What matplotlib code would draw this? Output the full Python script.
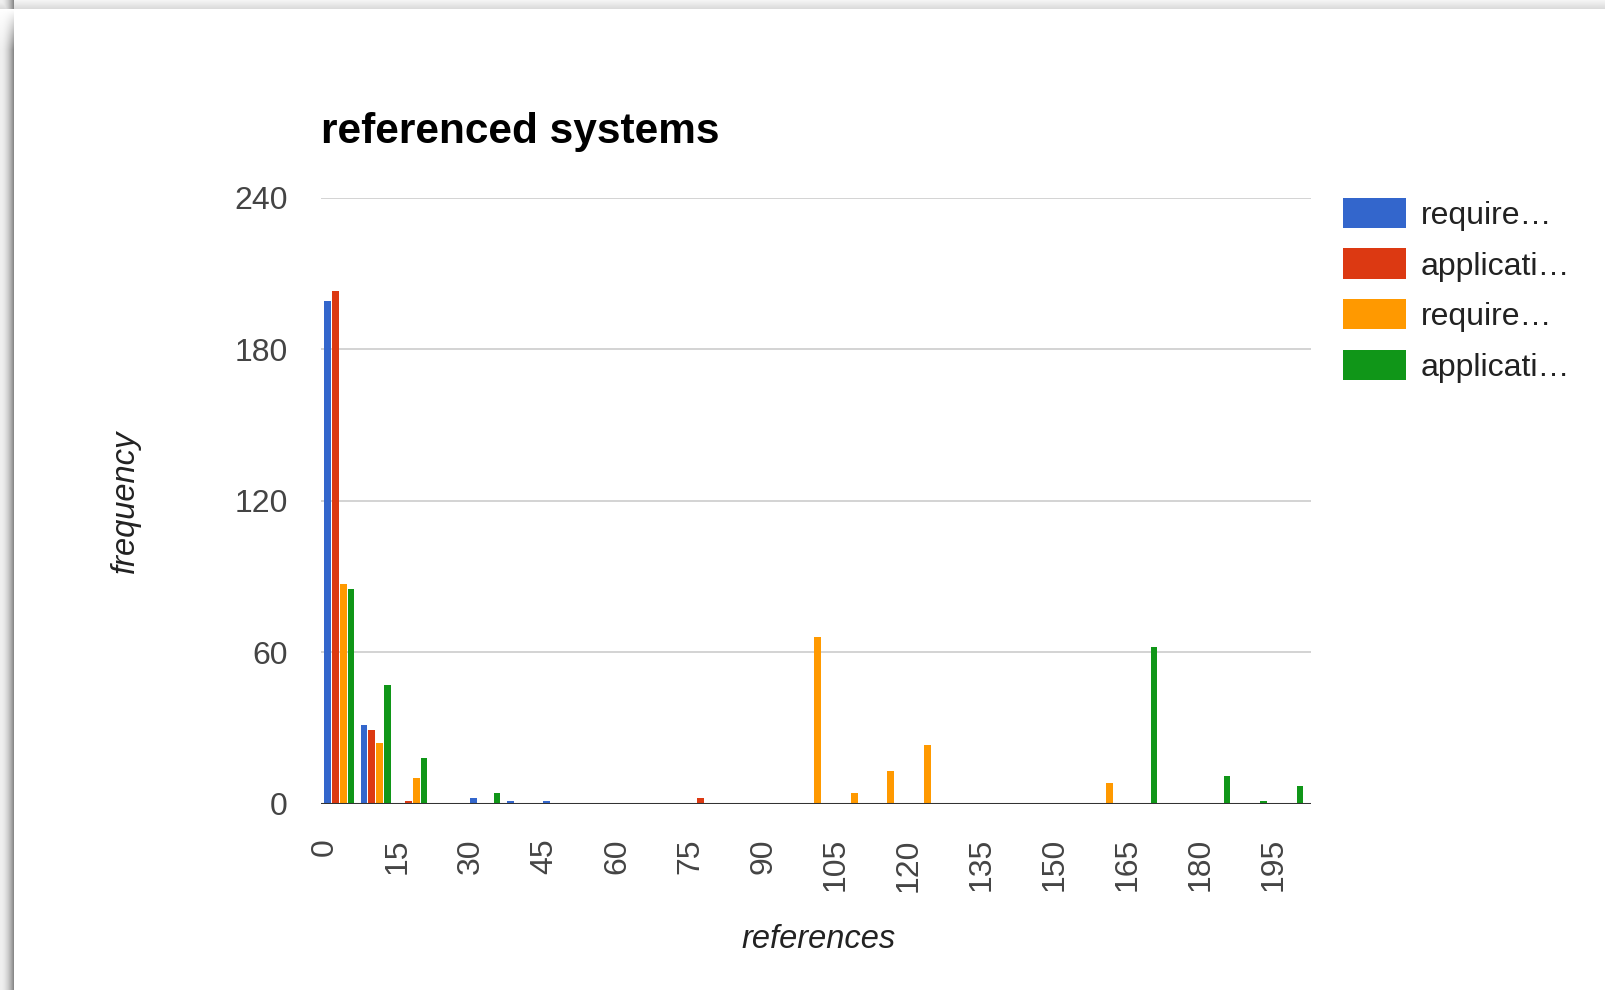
import numpy as np
import matplotlib
matplotlib.use('Agg')
import matplotlib.pyplot as plt
import matplotlib.transforms as mtransforms
from matplotlib.patches import Rectangle

plt.rcParams['font.family'] = ['Liberation Sans', 'DejaVu Sans']

# histogram of reference counts, bins of 7.5 references
bin_width = 7.5
n_bins = 27
bin_starts = np.arange(n_bins) * bin_width

series_names = ['require…', 'applicati…', 'require…', 'applicati…']
series_colors = ['#3366cc', '#dc3912', '#ff9900', '#109618']

req_a = [199, 31, 0, 0, 2, 1, 1, 0, 0, 0, 0, 0, 0, 0,
         0, 0, 0, 0, 0, 0, 0, 0, 0, 0, 0, 0, 0]
app_a = [203, 29, 1, 0, 0, 0, 0, 0, 0, 0, 2, 0, 0, 0,
         0, 0, 0, 0, 0, 0, 0, 0, 0, 0, 0, 0, 0]
req_b = [87, 24, 10, 0, 0, 0, 0, 0, 0, 0, 0, 0, 0, 66,
         4, 13, 23, 0, 0, 0, 0, 8, 0, 0, 0, 0, 0]
app_b = [85, 47, 18, 0, 4, 0, 0, 0, 0, 0, 0, 0, 0, 0,
         0, 0, 0, 0, 0, 0, 0, 0, 62, 0, 11, 1, 7]
series = [req_a, app_a, req_b, app_b]

y_ticks = [0, 60, 120, 180, 240]
x_ticks = np.arange(0, 196, 15)

W, H = 1605, 990
fig = plt.figure(figsize=(W / 100, H / 100), dpi=100)

# card background with a soft shadow on the left and top edges
bg = np.ones((H, W, 3))
shade = np.ones((H, W))
xs = np.arange(14)
shade[:, :14] = np.minimum(shade[:, :14], 0.94 - 0.40 * (xs / 13.0) ** 2)
ys = np.arange(9)
shade[:9, :] = np.minimum(shade[:9, :], (0.96 - 0.10 * (ys / 8.0))[:, None])
fade = np.clip(np.arange(40) / 40.0, 0, 1)
shade[9:49, :14] = 1 - (1 - shade[9:49, :14]) * fade[:, None]
bg *= shade[:, :, None]
back = fig.add_axes([0, 0, 1, 1])
back.imshow(bg, aspect='auto', extent=[0, W, H, 0], interpolation='bilinear')
back.set_xlim(0, W)
back.set_ylim(H, 0)
back.axis('off')

ax_left, ax_right, ax_top, ax_bottom = 321, 1311, 197.6, 803.5
ax = fig.add_axes([ax_left / W, 1 - ax_bottom / H,
                   (ax_right - ax_left) / W, (ax_bottom - ax_top) / H])
ax.patch.set_alpha(0)

bar_w = 1.4
offsets = [-2.4, -0.8, 0.8, 2.4]
centers = bin_starts + bin_width / 2
for vals, off, col in zip(series, offsets, series_colors):
    ax.bar(centers + off, vals, width=bar_w, color=col, linewidth=0, zorder=3)

ax.set_xlim(0, 203.4)
ax.set_ylim(0, 240)
for yv in y_ticks[1:]:
    ax.axhline(yv, color='#cccccc', lw=1.2, zorder=1)
ax.axhline(0, color='#333333', lw=2.2, zorder=4)

for s in ax.spines.values():
    s.set_visible(False)
ax.set_yticks(y_ticks)
ax.set_yticklabels([str(v) for v in y_ticks])
ax.set_xticks(x_ticks)
ax.set_xticklabels([str(v) for v in x_ticks], rotation=90)
ax.tick_params(axis='y', length=0, pad=24, labelsize=23, labelcolor='#444444')
ax.tick_params(axis='x', length=0, pad=25, labelsize=23, labelcolor='#444444')
nudge = mtransforms.ScaledTranslation(4 / 100, 0, fig.dpi_scale_trans)
for lbl in ax.get_xticklabels():
    lbl.set_transform(lbl.get_transform() + nudge)

# titles and labels in pixel coordinates
over = fig.add_axes([0, 0, 1, 1])
over.set_xlim(0, W)
over.set_ylim(H, 0)
over.axis('off')
over.patch.set_alpha(0)

over.text(321, 143, 'referenced systems', fontsize=30.5, fontweight='bold',
          color='black', ha='left', va='baseline')
over.text(125, 501, 'frequency', fontsize=23.5, style='italic', color='#222222',
          rotation=90, ha='center', va='center')
over.text(819, 940, 'references', fontsize=23.5, style='italic', color='#222222',
          ha='center', va='center')

# legend
for i, (name, col) in enumerate(zip(series_names, series_colors)):
    y0 = 197.5 + i * 50.7
    over.add_patch(Rectangle((1343, y0), 63, 30.5, color=col, lw=0))
    over.text(1421, y0 + 18.5, name, fontsize=23, color='#222222',
              ha='left', va='center')

fig.savefig('out.png', dpi=100)
